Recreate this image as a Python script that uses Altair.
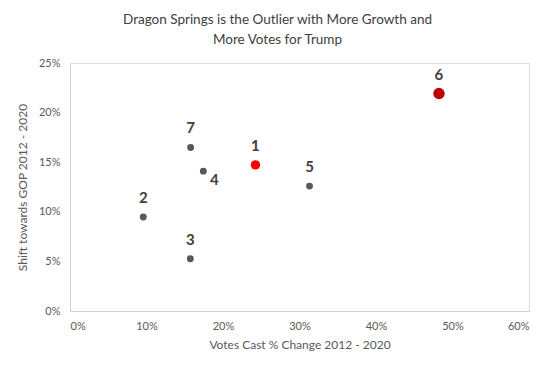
import altair as alt
import pandas as pd

# Data
labels = ["1", "2", "3", "4", "5", "6", "7"]
votes_change = [0.2424, 0.0958, 0.1573, 0.1743, 0.3131, 0.4823, 0.1577]
gop_shift = [0.1473, 0.0947, 0.0527, 0.1410, 0.1259, 0.2192, 0.1649]
groups = ["highlight", "other", "other", "other", "other", "outlier", "other"]
label_side = ["above", "above", "above", "right", "above", "above", "above"]

df = pd.DataFrame({
    "label": labels,
    "x": votes_change,
    "y": gop_shift,
    "group": groups,
    "side": label_side,
})

FONT = "Lato"
GREY_TEXT = "#595959"

x_enc = alt.X("x:Q",
              scale=alt.Scale(domain=[0, 0.6], nice=False, zero=True),
              axis=alt.Axis(format=".0%", values=[0, .1, .2, .3, .4, .5, .6],
                            title="Votes Cast % Change 2012 - 2020",
                            grid=False, ticks=False, domainColor="#D0D0D0",
                            labelColor=GREY_TEXT, labelFontSize=11, labelFont=FONT,
                            labelPadding=9, titleColor=GREY_TEXT, titleFontSize=12,
                            titleFont=FONT, titleFontWeight="normal", titlePadding=8))
y_enc = alt.Y("y:Q",
              scale=alt.Scale(domain=[0, 0.25], nice=False, zero=True),
              axis=alt.Axis(format=".0%", values=[0, .05, .1, .15, .2, .25],
                            title="Shift towards GOP 2012 - 2020",
                            grid=False, ticks=False, domainColor="#D0D0D0",
                            labelColor=GREY_TEXT, labelFontSize=11, labelFont=FONT,
                            labelPadding=10, titleColor=GREY_TEXT, titleFontSize=12,
                            titleFont=FONT, titleFontWeight="normal", titlePadding=9))

base = alt.Chart(df)

points = base.mark_circle(opacity=1).encode(
    x=x_enc,
    y=y_enc,
    color=alt.Color("group:N", legend=None,
                    scale=alt.Scale(domain=["other", "highlight", "outlier"],
                                    range=["#595959", "#FF0000", "#C00000"])),
    size=alt.Size("group:N", legend=None,
                  scale=alt.Scale(domain=["other", "highlight", "outlier"],
                                  range=[48, 130, 125])),
)

text_above = base.transform_filter(alt.datum.side == "above").mark_text(
    dy=-19, font=FONT, fontSize=15, fontWeight="bold", color="#404040"
).encode(x="x:Q", y="y:Q", text="label:N")

text_right = base.transform_filter(alt.datum.side == "right").mark_text(
    dx=11, dy=9, font=FONT, fontSize=15, fontWeight="bold", color="#404040"
).encode(x="x:Q", y="y:Q", text="label:N")

chart = alt.layer(points, text_above, text_right).properties(
    width=459,
    height=248,
    padding={"left": 62, "top": 55, "right": 16, "bottom": 40},
    autosize=alt.AutoSizeParams(type="none"),
    title=alt.TitleParams(
        ["Dragon Springs is the Outlier with More Growth and", "More Votes for Trump"],
        font=FONT, fontSize=13.5, fontWeight="normal", color="#404040",
        anchor="middle", dx=-22, offset=11, lineHeight=20,
    ),
).configure_view(stroke=None).configure(background="white")

chart.save("out.html", embed_options={"renderer": "svg", "actions": False})
